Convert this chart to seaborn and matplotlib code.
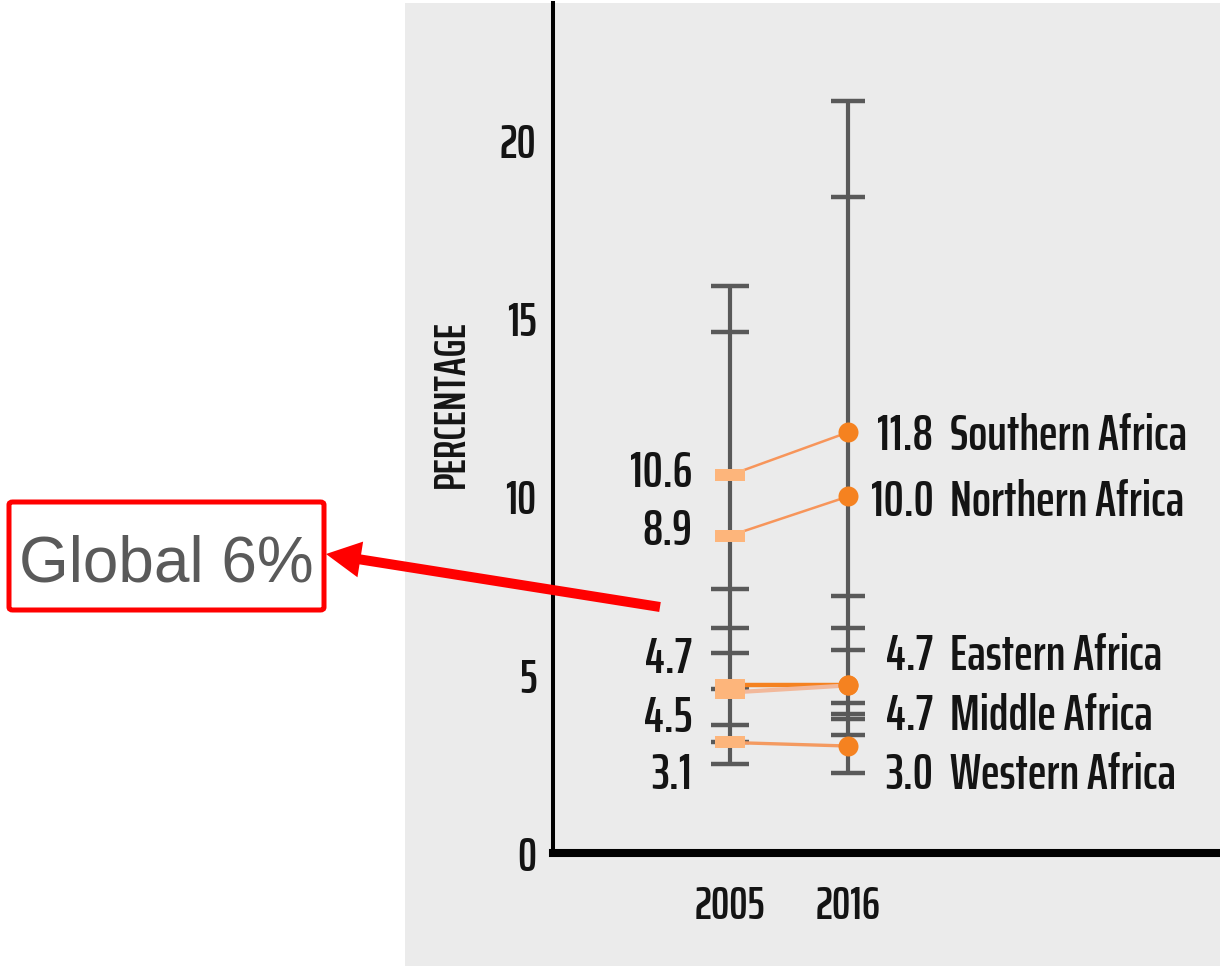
"""
Stunting prevalence in Africa by region, 2005 vs 2016
"""
import numpy as np
import pandas as pd
import matplotlib
matplotlib.use("Agg")
import matplotlib.pyplot as plt
import seaborn as sns
from matplotlib.patches import Rectangle, FancyBboxPatch, FancyArrowPatch, ArrowStyle
from matplotlib.markers import MarkerStyle
from matplotlib.path import Path

years = ["2005", "2016"]
regions = ["Southern Africa", "Northern Africa", "Eastern Africa", "Middle Africa", "Western Africa"]
rate_2005 = [10.6, 8.9, 4.7, 4.5, 3.1]
rate_2016 = [11.8, 10.0, 4.7, 4.7, 3.0]
# country-level marks on the grey range bars
spread_2005 = [15.9, 14.6, 7.4, 6.3, 5.6, 4.6, 3.6, 3.1, 2.5]
spread_2016 = [21.1, 18.4, 7.2, 6.3, 5.7, 4.2, 3.9, 3.75, 3.3, 2.25]
yticks = [0, 5, 10, 15, 20]

W, H = 1220, 966

df = pd.DataFrame({
    "region": regions * 2,
    "pos": [0] * len(regions) + [1] * len(regions),
    "rate": rate_2005 + rate_2016,
})

sns.set_theme(style="white", rc={"axes.spines.right": False, "axes.spines.top": False})
plt.rcParams["font.family"] = ["Saira ExtraCondensed", "DejaVu Sans"]
plt.rcParams["font.weight"] = 600

fig = plt.figure(figsize=(W / 100, H / 100), dpi=100)
fig.patch.set_facecolor("white")
fig.patches.append(Rectangle((405 / W, 0), (W - 405) / W, 963 / H, transform=fig.transFigure,
                             facecolor="#ebebeb", edgecolor="none", zorder=-1))

ax = fig.add_axes([553 / W, 113 / H, (W - 553) / W, 850 / H])
ax.set_facecolor("none")

ink = "#141414"
bar_grey = "#595959"

# grey range bars with tick marks
for i, (vals, cap) in enumerate([(spread_2005, 28), (spread_2016, 25)]):
    ax.vlines(i, min(vals), max(vals), color=bar_grey, lw=3.0, zorder=1)
    ax.scatter([i] * len(vals), vals, marker="_", s=cap ** 2, linewidths=3.2, color=bar_grey, zorder=1)

line_colors = {"Southern Africa": "#f7955a", "Northern Africa": "#f7955a", "Eastern Africa": "#f58220",
               "Middle Africa": "#f2b89a", "Western Africa": "#f49a60"}
line_widths = {"Southern Africa": 1.8, "Northern Africa": 1.8, "Eastern Africa": 3.2,
               "Middle Africa": 3.0, "Western Africa": 2.4}
sns.lineplot(data=df, x="pos", y="rate", hue="region", size="region", hue_order=regions,
             size_order=regions, palette=line_colors, sizes=line_widths, estimator=None,
             sort=False, legend=False, ax=ax, zorder=3)

rect = MarkerStyle(Path([(-1, -0.39), (1, -0.39), (1, 0.39), (-1, 0.39), (-1, -0.39)]))
ax.scatter(np.zeros(len(rate_2005)), rate_2005, marker=rect, s=22.3 ** 2, color="#fdb57b",
           linewidths=0, zorder=4)
sns.scatterplot(x=np.ones(len(rate_2016)), y=rate_2016, s=14.4 ** 2, color="#f58220",
                linewidth=0, ax=ax, zorder=4)

left_nudge = [0.03, 0.12, 0.73, -0.72, -0.94]
right_nudge = [-0.12, -0.17, 0.82, -0.88, -0.84]
for reg, v0, v1, n0, n1 in zip(regions, rate_2005, rate_2016, left_nudge, right_nudge):
    ax.text(-0.32, v0 + n0, f"{v0:.1f}", ha="right", va="center", fontsize=36, color=ink)
    ax.text(1.72, v1 + n1, f"{v1:.1f}", ha="right", va="center", fontsize=36, color=ink)
    ax.text(1.86, v1 + n1, reg, ha="left", va="center", fontsize=36, color=ink)

ax.set_xlim(-1.5, 4.15)
ax.set_ylim(0, 23.84)
ax.set_xticks([0, 1], years)
ax.set_yticks(yticks, [str(t) for t in yticks])
ax.set_xlabel("")
ax.set_ylabel("PERCENTAGE", fontsize=32, fontweight=600, color=ink)
ax.yaxis.set_label_coords(-0.12, 0.528)
ax.tick_params(axis="y", length=0, pad=12, labelsize=34, labelcolor=ink)
ax.tick_params(axis="x", direction="in", length=14.4, width=2.2, color="black", pad=23,
               labelsize=33, labelcolor=ink)
ax.spines["left"].set_linewidth(2.9)
ax.spines["bottom"].set_linewidth(5.8)
for s in ("left", "bottom"):
    ax.spines[s].set_color("black")

# annotation added on top of the chart
fig.patches.append(FancyBboxPatch((9 / W, 1 - 610 / H), 315 / W, 108 / H,
                                  boxstyle="round,pad=0,rounding_size=0.003",
                                  transform=fig.transFigure, facecolor="white",
                                  edgecolor="#ff0000", lw=3.6, zorder=5))
fig.text(166 / W, 1 - 582 / H, "Global 6%", ha="center", va="baseline", fontsize=46,
         color="#5a5a5a", family=["Liberation Sans", "DejaVu Sans"], fontweight="normal", zorder=6)
fig.patches.append(FancyArrowPatch((660 / W, 1 - 607 / H), (326 / W, 1 - 554 / H),
                                   transform=fig.transFigure,
                                   arrowstyle=ArrowStyle.Simple(head_length=2.5, head_width=2.6, tail_width=0.72),
                                   mutation_scale=10, shrinkA=0, shrinkB=0,
                                   color="#ff0000", lw=0, zorder=6))

fig.savefig("out.png", dpi=100)
plt.close()
